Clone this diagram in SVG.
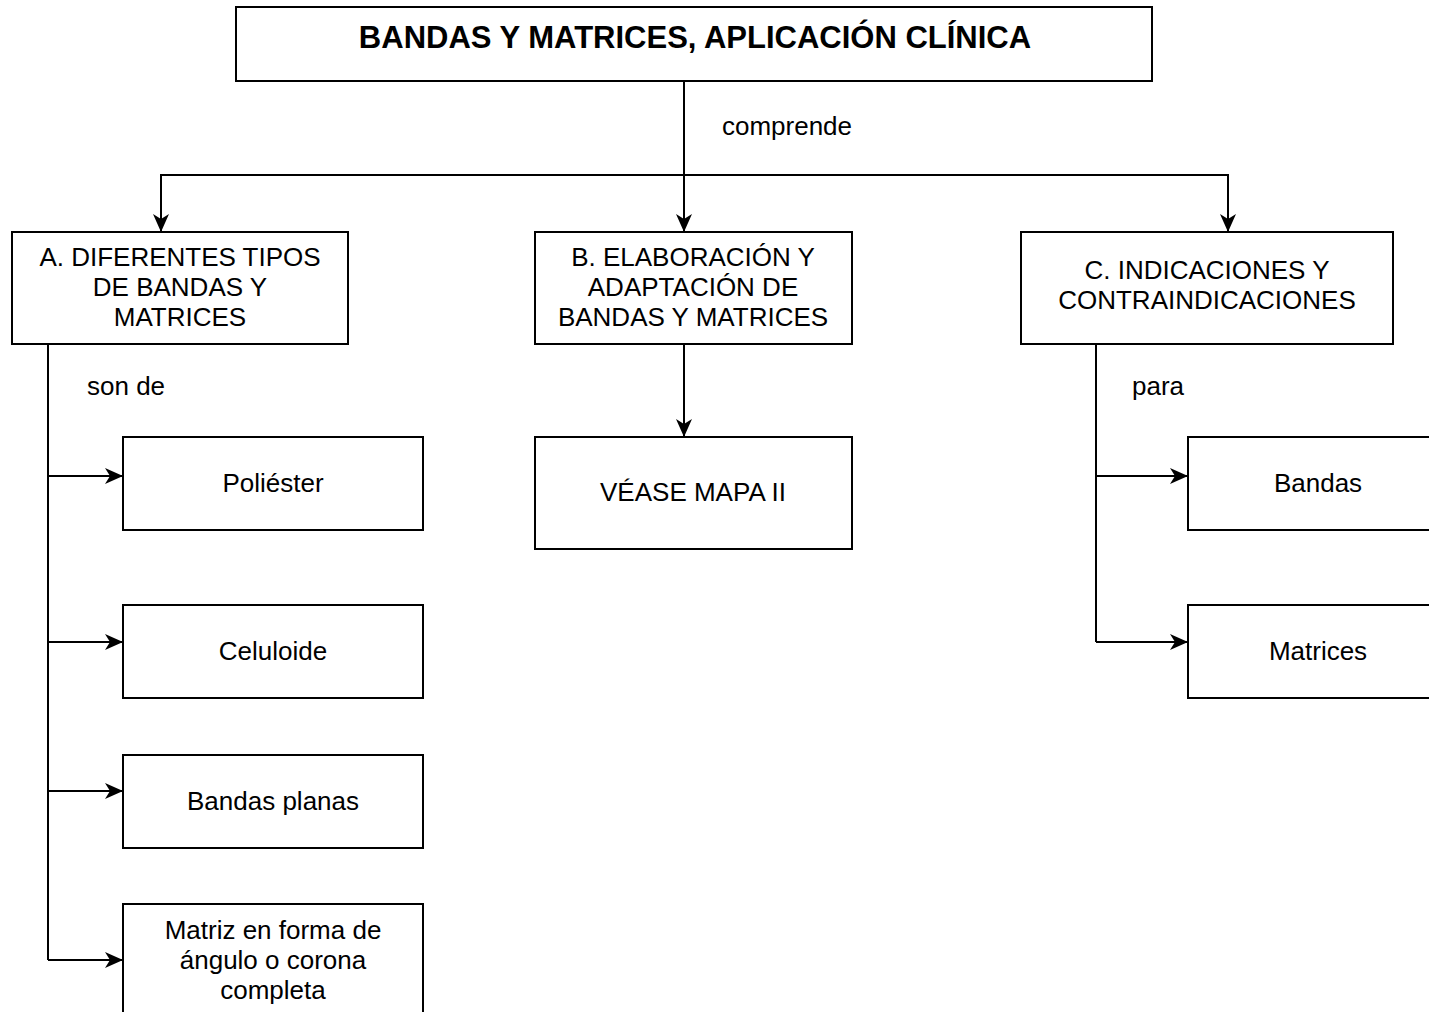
<svg xmlns="http://www.w3.org/2000/svg" width="1429" height="1012" viewBox="0 0 1429 1012">
<defs>
<marker id="arr" viewBox="0 0 20 20" refX="18" refY="10" markerWidth="20" markerHeight="20" markerUnits="userSpaceOnUse" orient="auto">
<path d="M0,2 L18,10 L0,18 L5,10 Z" fill="#000"/>
</marker>
</defs>
<style>
.n{fill:#fff;stroke:#000;stroke-width:2}
text{font-family:"Liberation Sans",Arial,sans-serif;font-size:26px;fill:#000;text-anchor:middle}
.t{font-weight:bold;font-size:31px}
.l{text-anchor:start}
.c{fill:none;stroke:#000;stroke-width:2}
</style>
<rect width="1429" height="1012" fill="#fff"/>
<g id="connectors">
<path class="c" d="M684,81 V232" marker-end="url(#arr)"/>
<path class="c" d="M684,175 H161 V232" marker-end="url(#arr)"/>
<path class="c" d="M684,175 H1228 V232" marker-end="url(#arr)"/>
<path class="c" d="M48,344 V960"/>
<path class="c" d="M48,476 H123" marker-end="url(#arr)"/>
<path class="c" d="M48,642 H123" marker-end="url(#arr)"/>
<path class="c" d="M48,791 H123" marker-end="url(#arr)"/>
<path class="c" d="M48,960 H123" marker-end="url(#arr)"/>
<path class="c" d="M684,344 V437" marker-end="url(#arr)"/>
<path class="c" d="M1096,344 V642"/>
<path class="c" d="M1096,476 H1188" marker-end="url(#arr)"/>
<path class="c" d="M1096,642 H1188" marker-end="url(#arr)"/>
<text x="787" y="135">comprende</text>
<text class="l" x="87" y="395">son de</text>
<text class="l" x="1132" y="395">para</text>
</g>
<g id="title"><rect class="n" x="236" y="7" width="916" height="74"/><text class="t" x="695" y="48">BANDAS Y MATRICES, APLICACIÓN CLÍNICA</text></g>
<g id="nodeA"><rect class="n" x="12" y="232" width="336" height="112"/><text x="180" y="266">A. DIFERENTES TIPOS</text><text x="180" y="296">DE BANDAS Y</text><text x="180" y="326">MATRICES</text></g>
<g id="nodeB"><rect class="n" x="535" y="232" width="317" height="112"/><text x="693" y="266">B. ELABORACIÓN Y</text><text x="693" y="296">ADAPTACIÓN DE</text><text x="693" y="326">BANDAS Y MATRICES</text></g>
<g id="nodeC"><rect class="n" x="1021" y="232" width="372" height="112"/><text x="1207" y="279">C. INDICACIONES Y</text><text x="1207" y="309">CONTRAINDICACIONES</text></g>
<g id="poliester"><rect class="n" x="123" y="437" width="300" height="93"/><text x="273" y="492">Poliéster</text></g>
<g id="celuloide"><rect class="n" x="123" y="605" width="300" height="93"/><text x="273" y="660">Celuloide</text></g>
<g id="planas"><rect class="n" x="123" y="755" width="300" height="93"/><text x="273" y="810">Bandas planas</text></g>
<g id="matriz"><rect class="n" x="123" y="904" width="300" height="120"/><text x="273" y="939">Matriz en forma de</text><text x="273" y="969">ángulo o corona</text><text x="273" y="999">completa</text></g>
<g id="mapa"><rect class="n" x="535" y="437" width="317" height="112"/><text x="693" y="501">VÉASE MAPA II</text></g>
<g id="bandas"><rect class="n" x="1188" y="437" width="260" height="93"/><text x="1318" y="492">Bandas</text></g>
<g id="matrices"><rect class="n" x="1188" y="605" width="260" height="93"/><text x="1318" y="660">Matrices</text></g>
</svg>
